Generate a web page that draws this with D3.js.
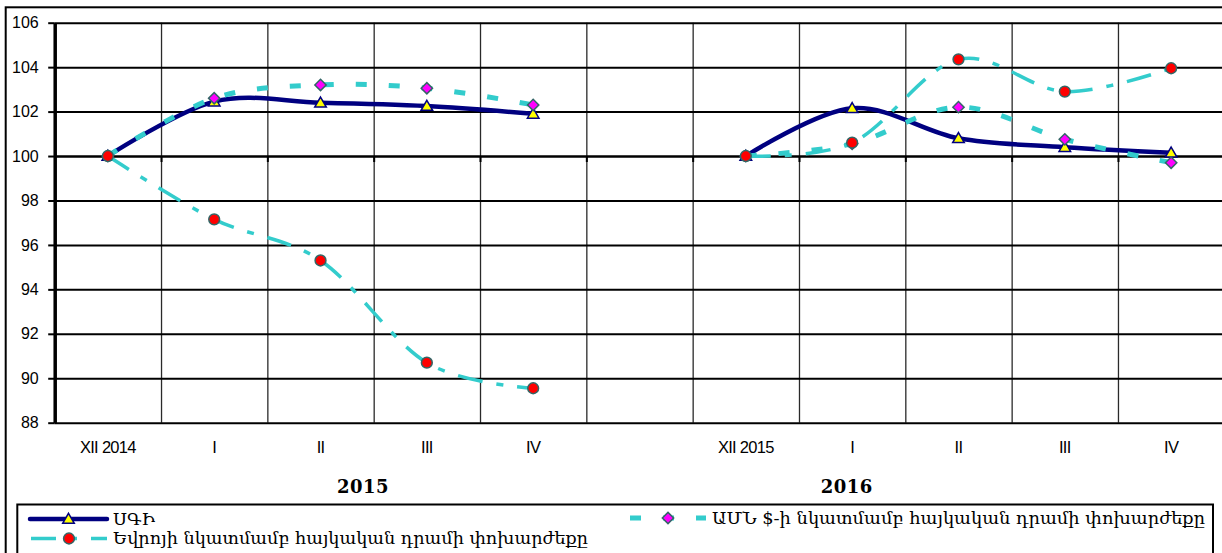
<!DOCTYPE html>
<html>
<head>
<meta charset="utf-8">
<script src="https://cdn.jsdelivr.net/npm/d3@7"></script>
<style>
  body { margin: 0; background: #fff; }
  svg { display: block; }
</style>
</head>
<body>
<div class="canva"></div>
<script>
var categories = ["XII 2014", "I", "II", "III", "IV", "", "XII 2015", "I", "II", "III", "IV"];
var sgi = [100, 102.45, 102.4, 102.25, 101.9, null, 100, 102.15, 100.8, 100.4, 100.15];
var usd = [100, 102.6, 103.2, 103.05, 102.3, null, 100, 100.55, 102.2, 100.75, 99.7];
var eur = [100, 97.15, 95.3, 90.7, 89.55, null, 100, 100.6, 104.35, 102.9, 103.95];
var yTicks = [88, 90, 92, 94, 96, 98, 100, 102, 104, 106];
var years = ["2015", "2016"];
var legendNames = ["ՍԳԻ", "ԱՄՆ $-ի նկատմամբ հայկական դրամի փոխարժեքը", "Եվրոյի նկատմամբ հայկական դրամի փոխարժեքը"];

const W = 1222, H = 553;
const svg = d3.select(".canva").append("svg")
            .attr("width", W)
            .attr("height", H);

const plot = {left: 54.7, right: 1224.3, top: 22.7, bottom: 422.7};
const armFont = "'DejaVu Serif', 'DejaVu Sans', serif";

// outer chart border
svg.append("rect")
    .attr("x", 5.7).attr("y", 7.3)
    .attr("width", W + 20).attr("height", H + 20)
    .attr("fill", "none").attr("stroke", "#000").attr("stroke-width", 2);

var x = d3.scaleBand()
            .domain(d3.range(categories.length))
            .range([plot.left, plot.right]);
var xEdge = d3.scaleLinear()
            .domain([0, categories.length])
            .range([plot.left, plot.right]);
var y = d3.scaleLinear()
            .domain([88, 106])
            .range([plot.bottom, plot.top]);
const cx = i => x(i) + x.bandwidth() / 2;

// vertical grid at category edges
svg.append("g")
    .attr("transform", `translate(0, ${plot.top})`)
    .call(d3.axisBottom(xEdge).tickValues(d3.range(1, categories.length))
            .tickSize(plot.bottom - plot.top).tickFormat(""))
    .call(g => g.select(".domain").remove())
    .call(g => g.selectAll("line").attr("stroke", "#2a2a2a").attr("stroke-width", 1.3));

// horizontal grid
svg.append("g")
    .attr("transform", `translate(${plot.left}, 0)`)
    .call(d3.axisLeft(y).tickValues(yTicks)
            .tickSize(-(plot.right - plot.left)).tickFormat(""))
    .call(g => g.select(".domain").remove())
    .call(g => g.selectAll("line").attr("stroke", "#000").attr("stroke-width", 2));

// category axis crossing at 100
svg.append("g")
    .attr("transform", `translate(0, ${y(100)})`)
    .call(d3.axisBottom(xEdge).tickValues(d3.range(1, categories.length))
            .tickSize(6).tickSizeOuter(0).tickFormat(""))
    .call(g => g.select(".domain").attr("stroke-width", 2))
    .call(g => g.selectAll("line").attr("stroke-width", 2));

// category labels
svg.append("g")
    .attr("transform", `translate(0, ${plot.bottom})`)
    .call(d3.axisBottom(x).tickFormat(i => categories[i]).tickSize(0).tickPadding(19))
    .call(g => g.select(".domain").remove())
    .call(g => g.selectAll("text")
            .attr("font-family", "'Liberation Sans', Arial, sans-serif")
            .attr("font-size", 16.5)
            .attr("letter-spacing", -0.7)
            .attr("fill", "#000"));

// value axis
svg.append("g")
    .attr("transform", `translate(${plot.left}, 0)`)
    .call(d3.axisLeft(y).tickValues(yTicks).tickSize(6.5).tickPadding(9.5).tickSizeOuter(0))
    .call(g => g.select(".domain").attr("stroke-width", 3.5))
    .call(g => g.selectAll("line").attr("stroke-width", 2))
    .call(g => g.selectAll("text")
            .attr("font-family", "'Liberation Sans', Arial, sans-serif")
            .attr("font-size", 16)
            .attr("fill", "#000"));

// year labels
var yearPos = [2.9, 7.45];
svg.selectAll(".year")
    .data(years)
    .enter()
    .append("text")
    .attr("class", "year")
    .attr("x", (d, i) => xEdge(yearPos[i]))
    .attr("y", 487)
    .attr("dy", "0.36em")
    .attr("text-anchor", "middle")
    .attr("font-family", "'DejaVu Serif', serif")
    .attr("font-weight", "bold")
    .attr("font-size", 18)
    .attr("letter-spacing", 0.5)
    .text(d => d);

// series styles
const seriesDefs = [
    {name: legendNames[0], values: sgi, color: "#000080", width: 4.5, dash: null, cap: "round",
     marker: "triangle", fill: "#ffff00", mstroke: "#000080"},
    {name: legendNames[1], values: usd, color: "#33cccc", width: 5, dash: "11,22", cap: "butt",
     marker: "diamond", fill: "#ff00ff", mstroke: "#336666"},
    {name: legendNames[2], values: eur, color: "#33cccc", width: 3.5, dash: "25,14,7,14", cap: "butt",
     marker: "circle", fill: "#ff0000", mstroke: "#336666"}
];

function markerPath(kind) {
    if (kind === "triangle") return d3.symbol(d3.symbolTriangle, 58)();
    if (kind === "diamond") return d3.symbol(d3.symbolSquare, 64)();
    return d3.symbol(d3.symbolCircle, 92)();
}
function markerRotate(kind) { return kind === "diamond" ? " rotate(45)" : ""; }
function markerDy(kind) { return kind === "triangle" ? 1 : 0; }

var valueLine = d3.line()
    .defined(d => d != null)
    .x((d, i) => cx(i))
    .y(d => y(d))
    .curve(d3.curveCardinal.tension(0));

seriesDefs.forEach(function(s) {
    svg.append("path")
        .datum(s.values)
        .attr("fill", "none")
        .attr("stroke", s.color)
        .attr("stroke-width", s.width)
        .attr("stroke-dasharray", s.dash)
        .attr("stroke-linecap", s.cap)
        .attr("stroke-linejoin", "round")
        .attr("d", valueLine);

    svg.selectAll(null)
        .data(s.values.map((v, i) => ({v: v, i: i})).filter(d => d.v != null))
        .enter()
        .append("path")
        .attr("d", markerPath(s.marker))
        .attr("transform", d => `translate(${cx(d.i)}, ${y(d.v) + markerDy(s.marker)})` + markerRotate(s.marker))
        .attr("fill", s.fill)
        .attr("stroke", s.mstroke)
        .attr("stroke-width", 1.5);
});

// legend
svg.append("rect")
    .attr("x", 17.3).attr("y", 504.5)
    .attr("width", 1213 - 17.3).attr("height", 80)
    .attr("fill", "#fff").attr("stroke", "#000").attr("stroke-width", 2);

var legendPos = [
    {x0: 30, x1: 107, ty: 519, tx: 113, tw: 42},
    {x0: 630, x1: 706, ty: 518, tx: 712, tw: 493},
    {x0: 31, x1: 107, ty: 538.5, tx: 113, tw: 475}
];

seriesDefs.forEach(function(s, k) {
    var p = legendPos[k];
    var g = svg.append("g");
    g.append("line")
        .attr("x1", p.x0).attr("x2", p.x1)
        .attr("y1", p.ty).attr("y2", p.ty)
        .attr("stroke", s.color)
        .attr("stroke-width", s.width)
        .attr("stroke-dasharray", s.dash)
        .attr("stroke-linecap", s.cap);
    g.append("path")
        .attr("d", markerPath(s.marker))
        .attr("transform", `translate(${(p.x0 + p.x1) / 2}, ${p.ty + markerDy(s.marker)})` + markerRotate(s.marker))
        .attr("fill", s.fill)
        .attr("stroke", s.mstroke)
        .attr("stroke-width", 1.5);
    g.append("text")
        .attr("x", p.tx).attr("y", p.ty)
        .attr("dy", "0.35em")
        .attr("font-family", armFont)
        .attr("font-size", 16)
        .attr("textLength", p.tw)
        .attr("lengthAdjust", "spacingAndGlyphs")
        .text(s.name);
});
</script>
</body>
</html>
